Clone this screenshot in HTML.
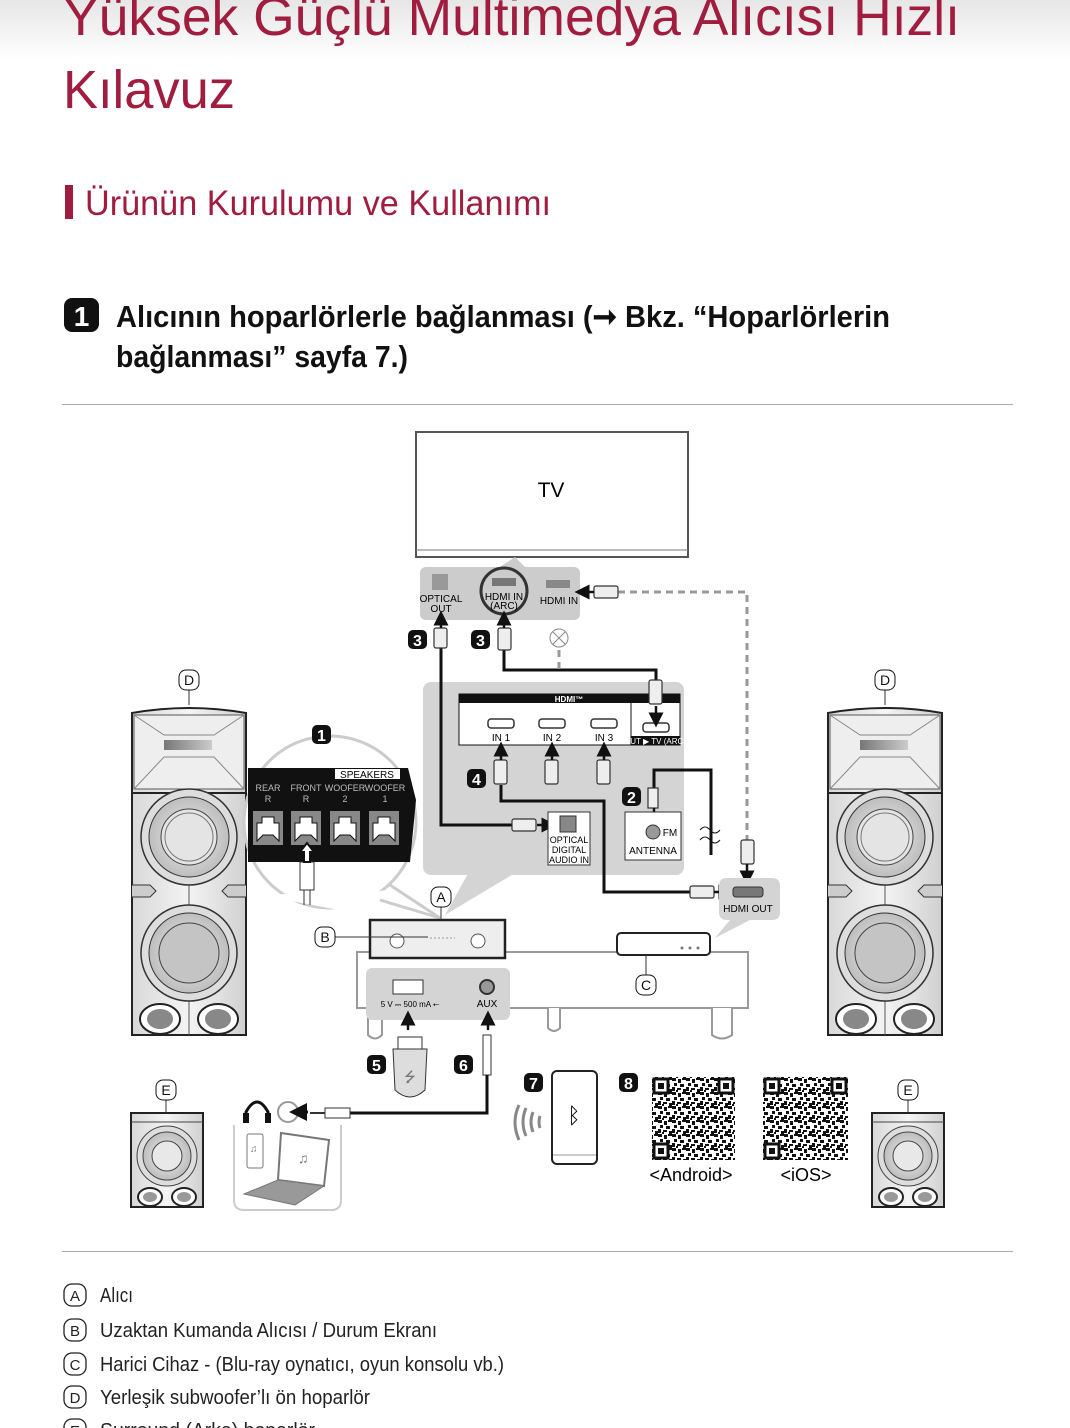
<!DOCTYPE html>
<html><head><meta charset="utf-8">
<style>
html,body{margin:0;padding:0;background:#fff;}
body{width:1070px;height:1428px;overflow:hidden;position:relative;}
svg{display:block;}
text{font-family:"Liberation Sans Narrow","Liberation Sans",sans-serif;}
.s{font-family:"Liberation Sans",sans-serif;}
</style></head><body>
<svg width="1070" height="1428" viewBox="0 0 1070 1428" xmlns="http://www.w3.org/2000/svg">
<defs>
<linearGradient id="topg" x1="0" y1="0" x2="0" y2="1"><stop offset="0" stop-color="#e6e6e6"/><stop offset="1" stop-color="#fff"/></linearGradient>
<linearGradient id="spk" x1="0" y1="0" x2="1" y2="0"><stop offset="0" stop-color="#d8d8d8"/><stop offset=".5" stop-color="#f4f4f4"/><stop offset="1" stop-color="#d0d0d0"/></linearGradient>
<radialGradient id="cone"><stop offset="0" stop-color="#f0f0f0"/><stop offset="1" stop-color="#bdbdbd"/></radialGradient>
<linearGradient id="bar" x1="0" y1="0" x2="1" y2="0"><stop offset="0" stop-color="#777"/><stop offset="1" stop-color="#ccc"/></linearGradient>
<pattern id="qr" width="14" height="14" patternUnits="userSpaceOnUse">
<rect width="14" height="14" fill="#fff"/>
<rect x="0" y="0" width="4" height="3" fill="#111"/><rect x="6" y="1" width="3" height="4" fill="#111"/><rect x="10" y="0" width="4" height="2" fill="#111"/>
<rect x="2" y="5" width="3" height="3" fill="#111"/><rect x="8" y="6" width="4" height="3" fill="#111"/><rect x="0" y="9" width="3" height="4" fill="#111"/>
<rect x="5" y="10" width="4" height="2" fill="#111"/><rect x="11" y="11" width="3" height="3" fill="#111"/><rect x="4" y="12" width="2" height="2" fill="#111"/>
</pattern>
<symbol id="bigspk" viewBox="0 0 118 336">
<path d="M2 8 Q59 -2 116 8 L116 330 L2 330 Z" fill="url(#spk)" stroke="#222" stroke-width="2"/>
<rect x="4" y="10" width="110" height="74" fill="#eee" stroke="#555"/>
<path d="M4 10 L34 30 L84 30 L114 10 M4 84 L34 52 L84 52 L114 84" stroke="#888" fill="none"/>
<rect x="34" y="35" width="48" height="10" fill="url(#bar)"/>
<line x1="2" y1="88" x2="116" y2="88" stroke="#222" stroke-width="2"/>
<line x1="59" y1="88" x2="59" y2="330" stroke="#555"/>
<circle cx="59" cy="132" r="48" fill="#ddd" stroke="#333" stroke-width="1.5"/><circle cx="59" cy="132" r="40" fill="url(#cone)" stroke="#333"/><circle cx="59" cy="132" r="28" fill="#e4e4e4" stroke="#444"/><circle cx="59" cy="132" r="24" fill="none" stroke="#777"/>
<path d="M2 180 L20 180 L26 186 L20 192 L2 192 M116 180 L98 180 L92 186 L98 192 L116 192" fill="#ccc" stroke="#333"/>
<circle cx="59" cy="248" r="48" fill="#ddd" stroke="#333" stroke-width="1.5"/><circle cx="59" cy="248" r="40" fill="url(#cone)" stroke="#333"/><circle cx="59" cy="248" r="30" fill="#c4c4c4" stroke="#444"/>
<ellipse cx="30" cy="314" rx="20" ry="15" fill="#fff" stroke="#222" stroke-width="2"/><ellipse cx="30" cy="314" rx="13" ry="10" fill="#888"/>
<ellipse cx="88" cy="314" rx="20" ry="15" fill="#fff" stroke="#222" stroke-width="2"/><ellipse cx="88" cy="314" rx="13" ry="10" fill="#888"/>
</symbol>
<symbol id="smspk" viewBox="0 0 74 96">
<rect x="1" y="1" width="72" height="94" fill="url(#spk)" stroke="#222" stroke-width="2"/>
<line x1="1" y1="10" x2="73" y2="10" stroke="#444"/>
<circle cx="37" cy="44" r="30" fill="#ddd" stroke="#444"/><circle cx="37" cy="44" r="24" fill="url(#cone)" stroke="#444"/><circle cx="37" cy="44" r="15" fill="#e8e8e8" stroke="#444"/>
<ellipse cx="20" cy="85" rx="12" ry="9" fill="#fff" stroke="#222" stroke-width="2"/><ellipse cx="20" cy="85" rx="7" ry="5" fill="#999"/>
<ellipse cx="54" cy="85" rx="12" ry="9" fill="#fff" stroke="#222" stroke-width="2"/><ellipse cx="54" cy="85" rx="7" ry="5" fill="#999"/>
</symbol>
<symbol id="jack" viewBox="0 0 30 34">
<rect x="0" y="0" width="30" height="34" fill="#888"/>
<path d="M4 30 L4 12 L9 12 L9 6 L21 6 L21 12 L26 12 L26 30 L20 24 L10 24 Z" fill="#fff" stroke="#111"/>
</symbol>
<marker id="ah" markerWidth="6" markerHeight="6" refX="3" refY="3" orient="auto"><path d="M0 0 L6 3 L0 6 Z" fill="#111"/></marker>
</defs>

<rect width="1070" height="60" fill="url(#topg)"/>
<g fill="#a11d3f">
<text x="63" y="35" font-size="54" textLength="897" lengthAdjust="spacingAndGlyphs">Yüksek Güçlü Multimedya Alıcısı Hızlı</text>
<text x="63" y="108" font-size="54" textLength="172" lengthAdjust="spacingAndGlyphs">Kılavuz</text>
<rect x="65" y="185" width="8" height="34"/>
<text x="85" y="215" font-size="35" textLength="466" lengthAdjust="spacingAndGlyphs">Ürünün Kurulumu ve Kullanımı</text>
</g>
<rect x="64" y="298" width="35" height="34" rx="8" fill="#111"/>
<text x="81.5" y="326" font-size="28" font-weight="bold" fill="#fff" text-anchor="middle">1</text>
<g font-weight="bold" fill="#111" font-size="31">
<text x="116" y="327" textLength="774" lengthAdjust="spacingAndGlyphs">Alıcının hoparlörlerle bağlanması (➞ Bkz. “Hoparlörlerin</text>
<text x="116" y="367" textLength="292" lengthAdjust="spacingAndGlyphs">bağlanması” sayfa 7.)</text>
</g>
<line x1="62" y1="404.5" x2="1013" y2="404.5" stroke="#aaa"/>
<line x1="62" y1="1251.5" x2="1013" y2="1251.5" stroke="#aaa"/>

<!-- TV -->
<rect x="416" y="432" width="272" height="125" fill="#fff" stroke="#555" stroke-width="2"/>
<line x1="416" y1="550" x2="688" y2="550" stroke="#777"/>
<text x="551" y="497" font-size="21" text-anchor="middle" class="s">TV</text>
<path d="M500 567 L515 557 L525 567 Z" fill="#ccc"/>
<rect x="420" y="567" width="160" height="53" rx="6" fill="#ccc"/>
<rect x="432" y="574" width="16" height="16" fill="#999"/>
<text x="441" y="602" font-size="10" text-anchor="middle" class="s">OPTICAL</text><text x="441" y="612" font-size="10" text-anchor="middle" class="s">OUT</text>
<circle cx="504" cy="591" r="23" fill="none" stroke="#333" stroke-width="3"/>
<rect x="492" y="578" width="24" height="8" fill="#777"/>
<text x="504" y="600" font-size="10" text-anchor="middle" class="s">HDMI IN</text><text x="504" y="609" font-size="10" text-anchor="middle" class="s">(ARC)</text>
<rect x="546" y="580" width="24" height="8" fill="#888"/>
<text x="559" y="604" font-size="10" text-anchor="middle" class="s">HDMI IN</text>

<!-- receiver callout panel -->
<path d="M470 870 L520 870 L445 915 Z" fill="#d4d4d4"/>
<rect x="423" y="682" width="261" height="193" rx="8" fill="#d4d4d4"/>
<rect x="459" y="694" width="221" height="51" fill="#fff" stroke="#111"/>
<rect x="459" y="694" width="221" height="9" fill="#111"/>
<text x="569" y="702" font-size="8" fill="#fff" text-anchor="middle" font-weight="bold">HDMI™</text>
<line x1="631" y1="703" x2="631" y2="745" stroke="#111"/>
<rect x="631" y="736" width="49" height="9" fill="#111"/>
<text x="655" y="744" font-size="8" fill="#fff" text-anchor="middle">OUT ▶ TV (ARC)</text>
<g fill="#fff" stroke="#333" stroke-width="1.5">
<rect x="488" y="719" width="26" height="9" rx="3"/><rect x="539" y="719" width="26" height="9" rx="3"/><rect x="591" y="719" width="26" height="9" rx="3"/><rect x="643" y="723" width="26" height="9" rx="3"/>
</g>
<g font-size="10" text-anchor="middle" class="s"><text x="501" y="741">IN 1</text><text x="552" y="741">IN 2</text><text x="604" y="741">IN 3</text></g>

<!-- cables -->
<g fill="none" stroke="#111" stroke-width="3">
<path d="M441 645 L441 825 L512 825"/>
<path d="M504 650 L504 670 L656 670 L656 682"/>
<path d="M501 785 L501 801 L604 801 L604 892 L690 892"/>
<path d="M654 795 L654 770 L711 770 L711 855"/>
</g>
<g fill="none" stroke="#999" stroke-width="3" stroke-dasharray="7 5">
<path d="M618 592 L747 592 L747 840"/>
<path d="M559 650 L559 670"/>
</g>
<g fill="#eee" stroke="#333" stroke-width="1.2">
<rect x="434" y="628" width="13" height="20" rx="2"/>
<rect x="498" y="628" width="13" height="22" rx="2"/>
<rect x="649" y="680" width="13" height="24" rx="2"/>
<rect x="494" y="760" width="13" height="24" rx="2"/><rect x="545" y="760" width="13" height="24" rx="2"/><rect x="597" y="760" width="13" height="24" rx="2"/>
<rect x="512" y="819" width="24" height="12" rx="2"/>
<rect x="648" y="788" width="10" height="20"/>
<rect x="690" y="886" width="24" height="12" rx="2"/>
<rect x="741" y="840" width="13" height="24" rx="2"/>
<rect x="594" y="586" width="24" height="12" rx="2"/>
</g>
<circle cx="559" cy="638" r="9" fill="#fff" stroke="#888"/><path d="M553 632 L565 644 M565 632 L553 644" stroke="#888"/>
<g stroke="#111" stroke-width="2.5" marker-end="url(#ah)">
<line x1="441" y1="628" x2="441" y2="618"/><line x1="504" y1="628" x2="504" y2="618"/>
<line x1="656" y1="706" x2="656" y2="720"/>
<line x1="501" y1="760" x2="501" y2="749"/><line x1="552" y1="760" x2="552" y2="749"/><line x1="604" y1="760" x2="604" y2="749"/>
<line x1="537" y1="825" x2="549" y2="825"/>
<line x1="654" y1="808" x2="654" y2="820"/>
<line x1="714" y1="892" x2="726" y2="892"/>
<line x1="747" y1="864" x2="747" y2="878"/>
<line x1="594" y1="592" x2="582" y2="592"/>
</g>
<path d="M700 830 q5 -6 10 0 t10 0 M700 840 q5 -6 10 0 t10 0" stroke="#111" fill="none"/>
<rect x="548" y="812" width="42" height="53" fill="#fff" stroke="#333"/>
<rect x="560" y="816" width="16" height="16" fill="#888" stroke="#333"/>
<g font-size="9" text-anchor="middle" class="s"><text x="569" y="843">OPTICAL</text><text x="569" y="853">DIGITAL</text><text x="569" y="863">AUDIO IN</text></g>
<rect x="625" y="812" width="56" height="48" fill="#fff" stroke="#333"/>
<circle cx="653" cy="832" r="7" fill="#999" stroke="#333"/>
<text x="670" y="836" font-size="10" text-anchor="middle" class="s">FM</text>
<text x="653" y="854" font-size="10" text-anchor="middle" class="s">ANTENNA</text>
<path d="M719 886 Q719 878 727 878 L772 878 Q780 878 780 886 L780 912 Q780 920 772 920 L750 920 L715 938 L730 920 L727 920 Q719 920 719 912 Z" fill="#d4d4d4"/>
<rect x="733" y="887" width="30" height="10" rx="3" fill="#777" stroke="#333"/>
<text x="748" y="912" font-size="10" text-anchor="middle" class="s">HDMI OUT</text>

<!-- speakers -->
<use href="#bigspk" x="130" y="705" width="118" height="336"/>
<use href="#bigspk" x="826" y="705" width="118" height="336"/>
<use href="#smspk" x="130" y="1112" width="74" height="96"/>
<use href="#smspk" x="871" y="1112" width="74" height="96"/>
<line x1="189" y1="690" x2="189" y2="705" stroke="#333"/><line x1="885" y1="690" x2="885" y2="705" stroke="#333"/>
<line x1="166" y1="1100" x2="166" y2="1113" stroke="#333"/><line x1="908" y1="1100" x2="908" y2="1113" stroke="#333"/>

<!-- circle callout -->
<circle cx="330" cy="822" r="86" fill="#fff" stroke="#ccc" stroke-width="3"/>
<path d="M260 895 L365 915 L400 890 Z" fill="#fff"/>
<path d="M390 885 L440 918 M380 900 L440 918" stroke="#ccc" stroke-width="3"/>
<path d="M248 768 L408 768 L416 800 L410 862 L248 862 Z" fill="#111"/>
<rect x="335" y="769" width="65" height="10" fill="#fff"/>
<text x="367" y="778" font-size="10" text-anchor="middle" class="s">SPEAKERS</text>
<g font-size="9" fill="#bbb" class="s" text-anchor="middle"><text x="268" y="791">REAR</text><text x="306" y="791">FRONT</text><text x="345" y="791">WOOFER</text><text x="385" y="791">WOOFER</text>
<text x="268" y="802">R</text><text x="306" y="802">R</text><text x="345" y="802">2</text><text x="385" y="802">1</text></g>
<use href="#jack" x="253" y="811" width="30" height="34"/><use href="#jack" x="291" y="811" width="30" height="34"/><use href="#jack" x="330" y="811" width="30" height="34"/><use href="#jack" x="369" y="811" width="30" height="34"/>
<rect x="300" y="862" width="14" height="28" fill="#fff" stroke="#333"/>
<path d="M307 843 L300 852 L304 852 L304 862 L310 862 L310 852 L314 852 Z" fill="#fff" stroke="#111" stroke-width="2"/>
<path d="M304 890 L304 905 M310 890 L310 905" stroke="#333"/>
<rect x="312" y="725" width="19" height="19" rx="5" fill="#111"/><text x="321.5" y="741" font-size="16" font-weight="bold" fill="#fff" text-anchor="middle" class="s">1</text>

<!-- table and receiver -->
<rect x="357" y="952" width="391" height="56" fill="#fff" stroke="#999" stroke-width="2"/>
<path d="M368 1008 L368 1035 Q375 1042 382 1035 L382 1008 M548 1008 L548 1028 Q554 1034 560 1028 L560 1008 M712 1008 L712 1035 Q722 1042 732 1035 L732 1008" fill="#fff" stroke="#999" stroke-width="2"/>
<rect x="366" y="968" width="144" height="52" rx="6" fill="#d4d4d4"/>
<rect x="393" y="980" width="30" height="14" fill="#fff" stroke="#333"/>
<text x="410" y="1007" font-size="8" text-anchor="middle" class="s">5 V ⎓ 500 mA ⭠</text>
<circle cx="487" cy="987" r="7" fill="#999" stroke="#333" stroke-width="2"/>
<text x="487" y="1007" font-size="10" text-anchor="middle" class="s">AUX</text>
<path d="M370 920 L505 920 L505 958 L370 958 Z" fill="#eee" stroke="#222" stroke-width="2.5"/>
<circle cx="397" cy="941" r="7" fill="#fff" stroke="#555"/><circle cx="478" cy="941" r="7" fill="#fff" stroke="#555"/>
<line x1="430" y1="938" x2="455" y2="938" stroke="#999" stroke-dasharray="2 2"/>
<rect x="617" y="933" width="93" height="22" rx="4" fill="#fff" stroke="#222" stroke-width="2"/>
<circle cx="682" cy="948" r="1.5" fill="#777"/><circle cx="690" cy="948" r="1.5" fill="#777"/><circle cx="698" cy="948" r="1.5" fill="#777"/>
<line x1="646" y1="955" x2="646" y2="975" stroke="#333"/>
<line x1="441" y1="906" x2="441" y2="920" stroke="#333"/>
<line x1="335" y1="937" x2="428" y2="937" stroke="#333"/>
<g stroke="#111" stroke-width="2.5" marker-end="url(#ah)"><line x1="408" y1="1030" x2="408" y2="1018"/><line x1="488" y1="1030" x2="488" y2="1018"/></g>

<g font-size="14" text-anchor="middle" class="s" fill="#111">
<rect x="179" y="670" width="20" height="20" rx="7" fill="#fff" stroke="#111"/><text x="189" y="685">D</text>
<rect x="875" y="670" width="20" height="20" rx="7" fill="#fff" stroke="#111"/><text x="885" y="685">D</text>
<rect x="431" y="887" width="20" height="20" rx="7" fill="#fff" stroke="#111"/><text x="441" y="902">A</text>
<rect x="315" y="927" width="20" height="20" rx="7" fill="#fff" stroke="#111"/><text x="325" y="942">B</text>
<rect x="636" y="975" width="20" height="20" rx="7" fill="#fff" stroke="#111"/><text x="646" y="990">C</text>
<rect x="156" y="1080" width="20" height="20" rx="7" fill="#fff" stroke="#111"/><text x="166" y="1095">E</text>
<rect x="898" y="1080" width="20" height="20" rx="7" fill="#fff" stroke="#111"/><text x="908" y="1095">E</text>
</g>
<g font-size="16" font-weight="bold" fill="#fff" text-anchor="middle" class="s">
<rect x="408" y="630" width="19" height="19" rx="5" fill="#111"/><text x="417.5" y="646">3</text>
<rect x="471" y="630" width="19" height="19" rx="5" fill="#111"/><text x="480.5" y="646">3</text>
<rect x="467" y="769" width="19" height="19" rx="5" fill="#111"/><text x="476.5" y="785">4</text>
<rect x="622" y="787" width="19" height="19" rx="5" fill="#111"/><text x="631.5" y="803">2</text>
<rect x="367" y="1055" width="19" height="19" rx="5" fill="#111"/><text x="376.5" y="1071">5</text>
<rect x="454" y="1055" width="19" height="19" rx="5" fill="#111"/><text x="463.5" y="1071">6</text>
<rect x="524" y="1073" width="19" height="19" rx="5" fill="#111"/><text x="533.5" y="1089">7</text>
<rect x="619" y="1073" width="19" height="19" rx="5" fill="#111"/><text x="628.5" y="1089">8</text>
</g>
<rect x="398" y="1037" width="24" height="12" fill="#fff" stroke="#333"/>
<path d="M393 1049 L427 1049 L425 1090 Q410 1104 395 1090 Z" fill="#ddd" stroke="#333"/>
<text x="410" y="1082" font-size="14" text-anchor="middle" fill="#777">⭍</text>
<rect x="483" y="1035" width="8" height="40" fill="#fff" stroke="#333"/>
<path d="M487 1075 L487 1113 L350 1113" fill="none" stroke="#111" stroke-width="3"/>
<rect x="325" y="1108" width="25" height="10" fill="#fff" stroke="#333"/>
<line x1="325" y1="1113" x2="310" y2="1113" stroke="#333" stroke-width="2"/>
<circle cx="288" cy="1112" r="10" fill="#fff" stroke="#999" stroke-width="2"/>
<line x1="308" y1="1112" x2="298" y2="1112" stroke="#111" stroke-width="3" marker-end="url(#ah)"/>
<path d="M246 1120 L246 1112 Q257 1092 268 1112 L268 1120" fill="none" stroke="#111" stroke-width="3"/>
<rect x="243" y="1113" width="6" height="10" fill="#111"/><rect x="265" y="1113" width="6" height="10" fill="#111"/>
<path d="M234 1125 L234 1200 Q234 1210 244 1210 L331 1210 Q341 1210 341 1200 L341 1125" fill="none" stroke="#ccc" stroke-width="2"/>
<rect x="247" y="1134" width="16" height="34" rx="2" fill="#fff" stroke="#777"/>
<path d="M281 1133 L329 1140 L324 1186 L278 1180 Z" fill="#fff" stroke="#777" stroke-width="2"/>
<path d="M278 1180 L244 1194 L295 1205 L324 1186 Z" fill="#999" stroke="#777"/>
<text x="298" y="1163" font-size="14" fill="#777">♫</text><text x="250" y="1152" font-size="10" fill="#777">♫</text>
<rect x="552" y="1071" width="45" height="93" rx="5" fill="#fff" stroke="#222" stroke-width="2"/>
<line x1="553" y1="1155" x2="596" y2="1155" stroke="#999"/>
<text x="574" y="1123" font-size="22" text-anchor="middle" class="s">ᛒ</text>
<path d="M519 1105 Q511 1122 519 1140 M526 1108 Q520 1122 526 1136 M533 1112 Q529 1122 533 1132 M540 1116 Q538 1122 540 1128" fill="none" stroke="#888" stroke-width="3"/>
<rect x="652" y="1077" width="83" height="83" fill="url(#qr)"/>
<rect x="763" y="1077" width="85" height="83" fill="url(#qr)"/>
<g fill="#fff" stroke="#111" stroke-width="3">
<rect x="654" y="1079" width="14" height="14"/><rect x="719" y="1079" width="14" height="14"/><rect x="654" y="1144" width="14" height="14"/>
<rect x="765" y="1079" width="14" height="14"/><rect x="832" y="1079" width="14" height="14"/><rect x="765" y="1144" width="14" height="14"/>
</g>
<g fill="#111"><rect x="658" y="1083" width="6" height="6"/><rect x="723" y="1083" width="6" height="6"/><rect x="658" y="1148" width="6" height="6"/><rect x="769" y="1083" width="6" height="6"/><rect x="836" y="1083" width="6" height="6"/><rect x="769" y="1148" width="6" height="6"/></g>
<text x="691" y="1181" font-size="18" text-anchor="middle" class="s">&lt;Android&gt;</text>
<text x="806" y="1181" font-size="18" text-anchor="middle" class="s">&lt;iOS&gt;</text>

<g font-size="20" fill="#222" class="s">
<g font-size="15" text-anchor="middle">
<rect x="64" y="1284" width="22" height="22" rx="8" fill="#fff" stroke="#222" stroke-width="1.3"/><text x="75" y="1301">A</text>
<rect x="64" y="1319" width="22" height="22" rx="8" fill="#fff" stroke="#222" stroke-width="1.3"/><text x="75" y="1336">B</text>
<rect x="64" y="1353" width="22" height="22" rx="8" fill="#fff" stroke="#222" stroke-width="1.3"/><text x="75" y="1370">C</text>
<rect x="64" y="1386" width="22" height="22" rx="8" fill="#fff" stroke="#222" stroke-width="1.3"/><text x="75" y="1403">D</text>
<rect x="64" y="1419" width="22" height="22" rx="8" fill="#fff" stroke="#222" stroke-width="1.3"/><text x="75" y="1436">E</text>
</g>
<text x="100" y="1302" textLength="33" lengthAdjust="spacingAndGlyphs">Alıcı</text>
<text x="100" y="1337" textLength="337" lengthAdjust="spacingAndGlyphs">Uzaktan Kumanda Alıcısı / Durum Ekranı</text>
<text x="100" y="1371" textLength="404" lengthAdjust="spacingAndGlyphs">Harici Cihaz - (Blu-ray oynatıcı, oyun konsolu vb.)</text>
<text x="100" y="1404" textLength="270" lengthAdjust="spacingAndGlyphs">Yerleşik subwoofer’lı ön hoparlör</text>
<text x="100" y="1437" textLength="215" lengthAdjust="spacingAndGlyphs">Surround (Arka) hoparlör</text>
</g>
</svg>
</body></html>
